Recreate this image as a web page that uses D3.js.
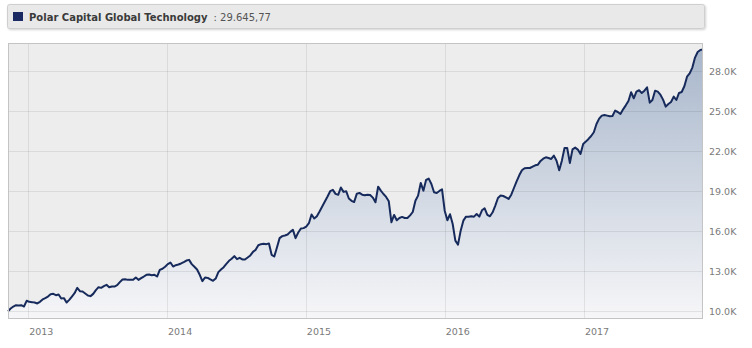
<!DOCTYPE html>
<html>
<head>
<meta charset="utf-8">
<script src="https://cdn.jsdelivr.net/npm/d3@7"></script>
<style>
  body { margin: 0; background: #fff; }
  svg text { font-family: "DejaVu Sans", Verdana, sans-serif; }
</style>
</head>
<body>
<div id="chart"></div>
<script>
var seriesName = "Polar Capital Global Technology";
var lastLabel = "29.645,77";

// weekly closes (Fridays), 2012-11-09 .. 2017-11-10, growth of 10K
var firstWeek = new Date(2012, 10, 9);
var afterLastWeek = new Date(2017, 10, 11);
var weeklyValues = [
  10000, 10210, 10360, 10460, 10440, 10460, 10360, 10790, 10710, 10690,
  10660, 10590, 10710, 10890, 10990, 11110, 11290, 11310, 11210, 11260,
  10960, 10990, 10660, 10860, 11110, 11360, 11760, 11510, 11490, 11340,
  11190, 11140, 11310, 11590, 11810, 11760, 11890, 11990, 11810, 11860,
  11860, 11960, 12190, 12390, 12410, 12360, 12360, 12360, 12540, 12360,
  12490, 12610, 12740, 12760, 12710, 12740, 12610, 13110, 13190, 13340,
  13540, 13660, 13360, 13460, 13510, 13590, 13690, 13810, 13860, 13540,
  13340, 13140, 12740, 12260, 12540, 12510, 12390, 12290, 12460, 12940,
  13140, 13310, 13560, 13790, 13940, 14140, 13910, 14010, 13890, 13890,
  14040, 14190, 14460, 14610, 14960, 15040, 15060, 15040, 15090, 14240,
  14110, 14790, 15490, 15640, 15690, 15760, 15960, 16110, 15490, 15910,
  16210, 16240, 16360, 16610, 17260, 16960, 17140, 17490, 17860, 18240,
  18610, 19010, 19110, 18810, 18740, 19290, 18960, 19010, 18460, 18290,
  18200, 18830, 18880, 18750, 18700, 18750, 18730, 18530, 18180, 19350,
  19050, 18800, 18580, 18250, 16680, 17230, 16830, 17000, 17080, 17000,
  17000, 17200, 17450, 18300, 18680, 19630, 19050, 19850, 19950, 19550,
  18930, 18880, 19030, 19150, 17550, 16830, 17280, 16550, 15300, 15000,
  16050, 16800, 17100, 17100, 17130, 17100, 17300, 17100, 17580, 17730,
  17230, 17130, 17430, 17930, 18500, 18680, 18650, 18550, 18430, 18750,
  19250, 19750, 20200, 20580, 20730, 20750, 20750, 20850, 20950, 21000,
  21280, 21450, 21550, 21500, 21430, 21680, 21300, 20580, 21300, 22250,
  22250, 21130, 22150, 22280, 22130, 21800, 22550, 22730, 22930, 23150,
  23430, 24050, 24450, 24680, 24730, 24680, 24630, 24650, 25050, 24950,
  24800, 25150, 25450, 25780, 26430, 25980, 26480, 26580, 26380, 26550,
  26800, 25650, 25850, 26550, 26480, 26250, 25880, 25350, 25550, 25700,
  26100, 25850, 26380, 26450, 26880, 27600, 27850, 28280, 29030, 29450,
  29600, 29645.77
];
var yTicks = [10000, 13000, 16000, 19000, 22000, 25000, 28000];
var yearTicks = [2013, 2014, 2015, 2016, 2017];

var width = 752, height = 348;
var plot = { left: 8, right: 703, top: 43, bottom: 318 };

var weeks = d3.timeFriday.range(firstWeek, afterLastWeek);
var data = weeks.map(function(d, i) { return { date: d, value: weeklyValues[i] }; });

var svg = d3.select("#chart").append("svg")
    .attr("width", width)
    .attr("height", height);

var x = d3.scaleTime()
    .domain(d3.extent(weeks))
    .range([plot.left, plot.right]);

var y = d3.scaleLinear()
    .domain([9500, 30125])
    .range([plot.bottom, plot.top]);

var defs = svg.append("defs");
var grad = defs.append("linearGradient")
    .attr("id", "areaFill")
    .attr("gradientUnits", "userSpaceOnUse")
    .attr("x1", 0).attr("y1", plot.top)
    .attr("x2", 0).attr("y2", plot.bottom);
grad.append("stop").attr("offset", "0%").attr("stop-color", "#a6b5ca");
grad.append("stop").attr("offset", "100%").attr("stop-color", "#f6f6f8");

var shadow = defs.append("filter").attr("id", "boxShadow")
    .attr("x", "-5%").attr("y", "-20%").attr("width", "110%").attr("height", "160%");
shadow.append("feDropShadow")
    .attr("dx", 1).attr("dy", 1).attr("stdDeviation", 0.8)
    .attr("flood-color", "#000").attr("flood-opacity", 0.18);

// legend box
svg.append("rect")
    .attr("x", 7.5).attr("y", 4.5)
    .attr("width", 697).attr("height", 24)
    .attr("rx", 2)
    .attr("fill", "#e9e9e9")
    .attr("stroke", "#cfcfcf")
    .attr("filter", "url(#boxShadow)");

svg.append("rect")
    .attr("x", 13).attr("y", 12)
    .attr("width", 10).attr("height", 9)
    .attr("fill", "#1b2a63");

var legendText = svg.append("text")
    .attr("x", 29).attr("y", 20.5)
    .attr("font-size", "10px");
legendText.append("tspan")
    .attr("font-weight", "bold")
    .attr("fill", "#3a3a3a")
    .text(seriesName);
legendText.append("tspan")
    .attr("fill", "#555")
    .attr("dx", 6)
    .text(": " + lastLabel);

// plot background
svg.append("rect")
    .attr("x", plot.left).attr("y", plot.top)
    .attr("width", plot.right - plot.left)
    .attr("height", plot.bottom - plot.top)
    .attr("fill", "#ededed");

var area = d3.area()
    .x(function(d) { return x(d.date); })
    .y0(plot.bottom)
    .y1(function(d) { return y(d.value); });

svg.append("path")
    .datum(data)
    .attr("d", area)
    .attr("fill", "url(#areaFill)");

// grid lines
var grid = svg.append("g");
grid.selectAll(".hgrid")
    .data(yTicks)
    .enter().append("line")
    .attr("x1", plot.left).attr("x2", plot.right)
    .attr("y1", function(d) { return Math.round(y(d)) + 0.5; })
    .attr("y2", function(d) { return Math.round(y(d)) + 0.5; })
    .attr("stroke", "rgba(0,0,0,0.08)");

grid.selectAll(".vgrid")
    .data(yearTicks)
    .enter().append("line")
    .attr("x1", function(d) { return Math.round(x(new Date(d, 0, 1))) + 0.5; })
    .attr("x2", function(d) { return Math.round(x(new Date(d, 0, 1))) + 0.5; })
    .attr("y1", plot.top).attr("y2", plot.bottom)
    .attr("stroke", "rgba(0,0,0,0.08)");

var line = d3.line()
    .x(function(d) { return x(d.date); })
    .y(function(d) { return y(d.value); });

svg.append("path")
    .datum(data)
    .attr("d", line)
    .attr("fill", "none")
    .attr("stroke", "#172a5c")
    .attr("stroke-width", 2)
    .attr("stroke-linejoin", "round");

// plot border
svg.append("rect")
    .attr("x", plot.left + 0.5).attr("y", plot.top + 0.5)
    .attr("width", plot.right - plot.left - 1)
    .attr("height", plot.bottom - plot.top)
    .attr("fill", "none")
    .attr("stroke", "#c4c4c4");

// axis labels
var fmtK = d3.format(".1f");
svg.selectAll(".ylabel")
    .data(yTicks)
    .enter().append("text")
    .attr("x", 709)
    .attr("y", function(d) { return y(d) + 3.5; })
    .attr("font-size", "9.5px")
    .attr("fill", "#7a7a7a")
    .text(function(d) { return fmtK(d / 1000) + "K"; });

svg.selectAll(".xlabel")
    .data(yearTicks)
    .enter().append("text")
    .attr("x", function(d) { return x(new Date(d, 0, 1)) + 1; })
    .attr("y", 335)
    .attr("font-size", "9.5px")
    .attr("fill", "#7a7a7a")
    .text(function(d) { return d; });
</script>
</body>
</html>
